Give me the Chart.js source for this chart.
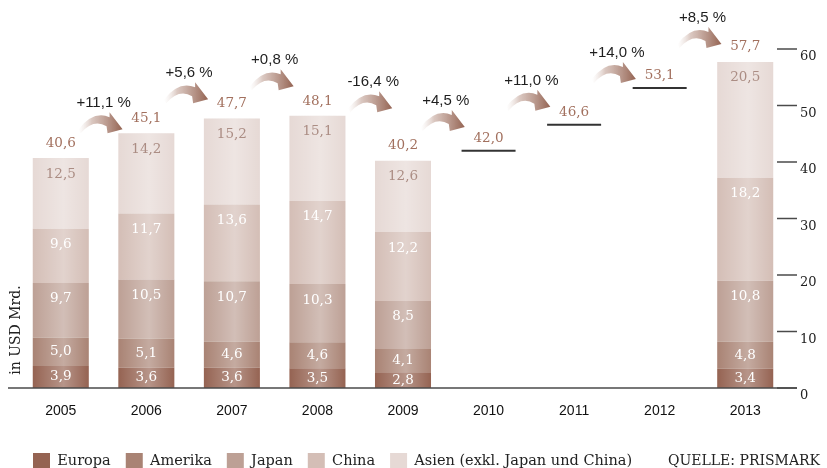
<!DOCTYPE html>
<html>
<head>
<meta charset="utf-8">
<script src="https://cdn.jsdelivr.net/npm/chart.js@4.4.1/dist/chart.umd.min.js"></script>
<style>
  html, body { margin: 0; padding: 0; background: #fff; }
  #wrap { width: 827px; height: 468px; }
</style>
</head>
<body>
<div id="wrap"><canvas id="chart"></canvas></div>
<script>
const years = ["2005", "2006", "2007", "2008", "2009", "2010", "2011", "2012", "2013"];

// market volume per region, USD bn (2010-2012 only as forecast totals)
const europa  = [3.9, 3.6, 3.6, 3.5, 2.8, null, null, null, 3.4];
const amerika = [5.0, 5.1, 4.6, 4.6, 4.1, null, null, null, 4.8];
const japan   = [9.7, 10.5, 10.7, 10.3, 8.5, null, null, null, 10.8];
const china   = [9.6, 11.7, 13.6, 14.7, 12.2, null, null, null, 18.2];
const asien   = [12.5, 14.2, 15.2, 15.1, 12.6, null, null, null, 20.5];
const forecast = [null, null, null, null, null, 42.0, 46.6, 53.1, null];
const totals  = [40.6, 45.1, 47.7, 48.1, 40.2, 42.0, 46.6, 53.1, 57.7];
const growth  = ["+11,1 %", "+5,6 %", "+0,8 %", "-16,4 %", "+4,5 %", "+11,0 %", "+14,0 %", "+8,5 %"];
const yTicks  = [0, 10, 20, 30, 40, 50, 60];

const regionNames = ["Europa", "Amerika", "Japan", "China", "Asien (exkl. Japan und China)"];
const regionColors = ["#956352", "#a98374", "#bda095", "#d4beb6", "#e6d9d5"];
const series = [europa, amerika, japan, china, asien];

// where the growth notes sit (value units on y) and small sideways nudges in px
const growthHeight = [50.4, 55.7, 58.0, 54.1, 50.8, 54.4, 59.3, 65.5];
const growthNudge  = [0, 0, 0, 13, 0, 0, 0, 0];

const SERIF = "'DejaVu Serif', serif";
const SANS = "'Liberation Sans', sans-serif";
const fmt = v => v.toFixed(1).replace(".", ",");

function drawArrow(ctx, cx, top) {
    ctx.save();
    ctx.translate(cx, top);
    const g = ctx.createLinearGradient(-23, 0, 21, 0);
    g.addColorStop(0, "rgba(236,226,222,0)");
    g.addColorStop(0.3, "rgba(212,190,182,0.85)");
    g.addColorStop(1, "#946352");
    ctx.fillStyle = g;
    ctx.beginPath();
    ctx.moveTo(-23, 13);
    ctx.quadraticCurveTo(-8, -6, 8, 1);
    ctx.lineTo(8, -4);
    ctx.lineTo(21, 13);
    ctx.lineTo(6, 17);
    ctx.lineTo(5, 10);
    ctx.quadraticCurveTo(-8, 2, -21, 17);
    ctx.closePath();
    ctx.fill();
    ctx.restore();
}

const decor = {
    id: "decor",
    afterDatasetsDraw(chart) {
        const ctx = chart.ctx;
        // soft vertical sheen on each bar segment
        series.forEach((data, d) => {
            chart.getDatasetMeta(d).data.forEach((bar, i) => {
                if (data[i] == null) return;
                const p = bar.getProps(["x", "y", "base", "width"], true);
                const l = p.x - p.width / 2;
                const g = ctx.createLinearGradient(l, 0, l + p.width, 0);
                g.addColorStop(0, "rgba(255,255,255,0)");
                g.addColorStop(0.55, "rgba(255,255,255,0.32)");
                g.addColorStop(1, "rgba(255,255,255,0)");
                ctx.fillStyle = g;
                ctx.fillRect(l, p.y, p.width, p.base - p.y);
            });
        });
    },
    afterDraw(chart) {
        const { ctx, scales: { x, y } } = chart;
        ctx.save();

        // base line
        ctx.strokeStyle = "#4a4a4a";
        ctx.lineWidth = 1.5;
        ctx.beginPath();
        ctx.moveTo(8, y.getPixelForValue(0));
        ctx.lineTo(797, y.getPixelForValue(0));
        ctx.stroke();

        // value axis on the right
        ctx.font = "13px " + SERIF;
        ctx.fillStyle = "#222";
        ctx.textAlign = "left";
        ctx.textBaseline = "middle";
        yTicks.forEach(t => {
            const py = y.getPixelForValue(t);
            ctx.beginPath();
            ctx.moveTo(777, py);
            ctx.lineTo(797, py);
            ctx.stroke();
            ctx.fillText(String(t), 800, py + 8);
        });

        // segment values
        ctx.textAlign = "center";
        ctx.font = "13.5px " + SERIF;
        series.forEach((data, d) => {
            chart.getDatasetMeta(d).data.forEach((bar, i) => {
                if (data[i] == null) return;
                const p = bar.getProps(["x", "y", "base"], true);
                const ly = Math.min((p.y + p.base) / 2, p.y + 16);
                ctx.fillStyle = d === 4 ? "#ab8d84" : "#fff";
                ctx.fillText(fmt(data[i]), p.x, ly);
            });
        });

        // totals above bars and forecast marks
        ctx.fillStyle = "#a2705e";
        totals.forEach((t, i) => {
            const cx = x.getPixelForValue(i);
            const gap = forecast[i] != null ? 12 : 15;
            ctx.fillText(fmt(t), cx, y.getPixelForValue(t) - gap);
        });

        // year-on-year growth with arrows
        ctx.font = "15px " + SANS;
        ctx.fillStyle = "#1e1e1e";
        growth.forEach((g, i) => {
            const mid = (x.getPixelForValue(i) + x.getPixelForValue(i + 1)) / 2 + growthNudge[i];
            const ly = y.getPixelForValue(growthHeight[i]);
            ctx.fillText(g, mid, ly);
            drawArrow(ctx, mid - 2, ly + 13);
        });

        // unit caption
        ctx.save();
        ctx.translate(16, 330);
        ctx.rotate(-Math.PI / 2);
        ctx.fillStyle = "#222";
        ctx.font = "14px " + SERIF;
        ctx.fillText("in USD Mrd.", 0, 0);
        ctx.restore();

        // source note next to the legend
        const hb = chart.legend.legendHitBoxes[0];
        ctx.textAlign = "left";
        ctx.font = "14px " + SERIF;
        ctx.fillStyle = "#222";
        ctx.fillText("QUELLE: PRISMARK", 668, hb.top + hb.height / 2);

        ctx.restore();
    }
};

const datasets = series.map((data, d) => ({
    label: regionNames[d],
    data: data,
    backgroundColor: regionColors[d],
    borderWidth: 0,
    stack: "regions",
    barPercentage: 0.655,
    categoryPercentage: 1
}));

datasets.push({
    type: "line",
    label: "Prognose",
    data: forecast,
    stack: "forecast",
    showLine: false,
    pointStyle: "line",
    pointRadius: 27,
    pointHoverRadius: 27,
    pointBorderWidth: 2,
    pointBorderColor: "#333",
    borderColor: "#333"
});

new Chart(document.getElementById("chart"), {
    type: "bar",
    data: { labels: years, datasets: datasets },
    options: {
        responsive: true,
        maintainAspectRatio: false,
        animation: false,
        layout: {
            autoPadding: false,
            padding: { left: 18, right: 39, top: 49, bottom: -11 }
        },
        scales: {
            x: {
                stacked: true,
                grid: { display: false },
                border: { display: false },
                ticks: {
                    color: "#111",
                    padding: 7,
                    font: { family: SANS, size: 14 }
                },
                afterFit(scale) {
                    scale.paddingLeft = 0;
                    scale.paddingRight = 0;
                    scale.height = 50;
                }
            },
            y: {
                display: false,
                stacked: true,
                min: 0,
                max: 60
            }
        },
        plugins: {
            tooltip: { enabled: false },
            legend: {
                position: "bottom",
                align: "start",
                labels: {
                    boxWidth: 17,
                    boxHeight: 16,
                    padding: 15,
                    color: "#222",
                    font: { family: SERIF, size: 14.5 },
                    filter: item => item.datasetIndex < 5
                }
            }
        }
    },
    plugins: [decor]
});
</script>
</body>
</html>
